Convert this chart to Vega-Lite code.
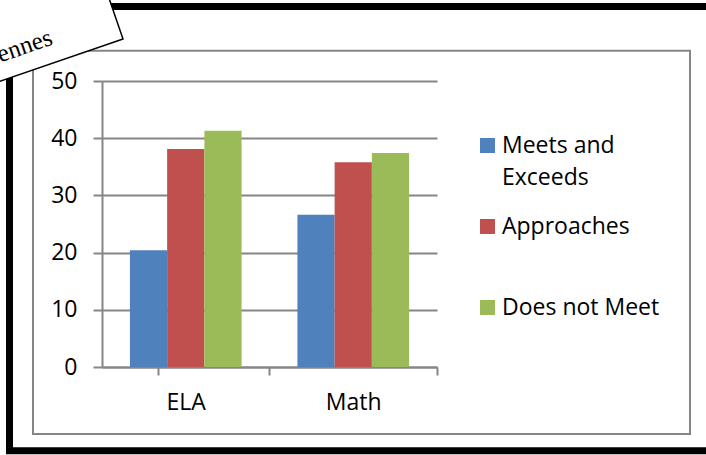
{
  "$schema": "https://vega.github.io/schema/vega-lite/v6.json",
  "width": 335,
  "height": 286,
  "autosize": {"type": "none"},
  "padding": {"left": 102, "top": 81, "right": 269, "bottom": 88},
  "background": "white",
  "config": {"view": {"stroke": null}, "font": "Open Sans"},
  "data": {
    "values": [
      {"subject": "ELA", "level": "Meets and Exceeds", "value": 20.4},
      {"subject": "ELA", "level": "Approaches", "value": 38.1},
      {"subject": "ELA", "level": "Does not Meet", "value": 41.3},
      {"subject": "Math", "level": "Meets and Exceeds", "value": 26.6},
      {"subject": "Math", "level": "Approaches", "value": 35.8},
      {"subject": "Math", "level": "Does not Meet", "value": 37.4}
    ]
  },
  "layer": [
    {
      "data": {"values": [{}]},
      "mark": {"type": "rect", "fill": null, "stroke": "black", "strokeWidth": 7},
      "encoding": {
        "x": {"value": -92.5},
        "x2": {"value": 612},
        "y": {"value": -74.5},
        "y2": {"value": 369.7}
      }
    },
    {
      "data": {"values": [{}]},
      "mark": {"type": "rect", "fill": null, "stroke": "#868686", "strokeWidth": 2},
      "encoding": {
        "x": {"value": -69},
        "x2": {"value": 588},
        "y": {"value": -30.3},
        "y2": {"value": 353}
      }
    },
    {
      "mark": {"type": "bar"},
      "encoding": {
        "x": {
          "field": "subject",
          "type": "nominal",
          "sort": ["ELA", "Math"],
          "scale": {"paddingInner": 0.3333, "paddingOuter": 0.1667},
          "axis": {
            "title": null,
            "orient": "bottom",
            "labelAngle": 0,
            "labelFontSize": 23,
            "labelColor": "black",
            "labelPadding": 16,
            "domainColor": "#868686",
            "domainWidth": 2,
            "tickColor": "#868686",
            "tickWidth": 2,
            "tickSize": 8,
            "bandPosition": 1,
            "tickExtra": true,
            "tickOffset": 27.9,
            "labelOffset": -27.9
          }
        },
        "xOffset": {
          "field": "level",
          "type": "nominal",
          "sort": ["Meets and Exceeds", "Approaches", "Does not Meet"],
          "scale": {"paddingInner": 0, "paddingOuter": 0}
        },
        "y": {
          "field": "value",
          "type": "quantitative",
          "scale": {"domain": [0, 50], "nice": false},
          "axis": {
            "title": null,
            "values": [0, 10, 20, 30, 40, 50],
            "labelFontSize": 23,
            "labelColor": "black",
            "labelPadding": 16,
            "domainColor": "#868686",
            "domainWidth": 2,
            "tickColor": "#868686",
            "tickWidth": 2,
            "tickSize": 9,
            "grid": true,
            "gridColor": "#868686",
            "gridWidth": 2
          }
        },
        "color": {
          "field": "level",
          "type": "nominal",
          "sort": ["Meets and Exceeds", "Approaches", "Does not Meet"],
          "scale": {
            "domain": ["Meets and Exceeds", "Approaches", "Does not Meet"],
            "range": ["#4F81BD", "#C0504D", "#9BBB59"]
          },
          "legend": {
            "title": null,
            "orient": "none",
            "legendX": 374,
            "legendY": 53,
            "padding": 0,
            "symbolType": "square",
            "symbolSize": 225,
            "symbolStrokeWidth": 0,
            "labelFontSize": 23,
            "labelColor": "black",
            "labelOffset": 3,
            "labelLimit": 300,
            "rowPadding": 25,
            "labelExpr": "datum.label == 'Meets and Exceeds' ? ['Meets and', 'Exceeds'] : [datum.label, '']",
            "encode": {"labels": {"update": {"lineHeight": {"value": 32}}}}
          }
        }
      }
    },
    {
      "data": {"values": [{}]},
      "mark": {
        "type": "point",
        "shape": "M-1.5,-0.5L1.5,-0.5L1.5,0.5L-1.5,0.5Z",
        "size": 40000,
        "angle": 341,
        "filled": true,
        "fill": "white",
        "stroke": "black",
        "strokeWidth": 1.5,
        "opacity": 1,
        "fillOpacity": 1
      },
      "encoding": {
        "x": {"value": -137.1},
        "y": {"value": -40.5}
      }
    },
    {
      "data": {"values": [{"label": "Vincennes"}]},
      "mark": {
        "type": "text",
        "font": "Liberation Serif",
        "fontSize": 25,
        "angle": 341,
        "align": "right",
        "baseline": "alphabetic",
        "color": "black"
      },
      "encoding": {
        "x": {"value": -48},
        "y": {"value": -37},
        "text": {"field": "label"}
      }
    }
  ]
}
